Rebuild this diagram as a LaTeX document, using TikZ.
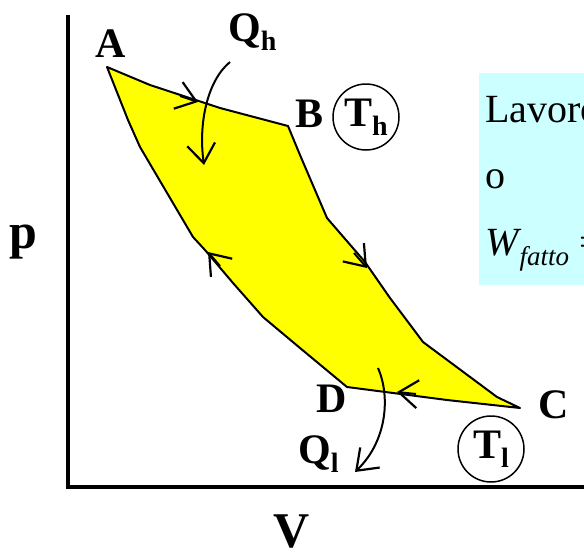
\documentclass[tikz,border=0pt]{standalone}
\usepackage{fontspec}
\setmainfont{Liberation Serif}
\usetikzlibrary{arrows.meta}
\definecolor{boxcyan}{RGB}{204,255,255}
\definecolor{cyclefill}{RGB}{255,255,0}
\newcommand{\bigbf}{\fontsize{42}{46}\selectfont\bfseries}
\newcommand{\sub}[2]{#1\raisebox{-9pt}{\fontsize{28}{30}\selectfont #2}}

\begin{document}
\begin{tikzpicture}[x=1pt,y=-1pt,
    flow/.style={line width=2pt,-{Straight Barb[length=19pt,width=28pt,line width=2.2pt]}},
    lbl/.style={anchor=base,font=\bigbf,inner sep=0pt},
    bath/.style={circle,draw,line width=1.5pt,minimum size=66pt,inner sep=0pt,font=\bigbf}]
    \clip (0,0) rectangle (584,552);
    % text box on the right
    \fill[boxcyan] (479,73) rectangle (600,285);
    \node[anchor=base west,inner sep=0pt,font=\fontsize{40}{44}\selectfont] (lav) at (485,122) {Lavoro};
    \node[anchor=base west,inner sep=0pt,font=\fontsize{40}{44}\selectfont] (o) at (485,188) {o};
    \node[anchor=base west,inner sep=0pt,font=\fontsize{40}{44}\selectfont] (wf) at (485,255)
        {\itshape W\kern1pt\raisebox{-10pt}{\fontsize{27}{30}\selectfont fatto}\upshape\ =};
    % axes
    \draw[line width=3.5pt] (68,15) -- (68,489);
    \draw[line width=3.5pt] (66,487) -- (590,487);
    \node[lbl,font=\fontsize{50}{54}\selectfont\bfseries] (p) at (23,248) {p};
    \node[lbl,font=\fontsize{50}{54}\selectfont\bfseries] (V) at (292,547) {V};
    % the cycle
    \coordinate (A) at (107,67);
    \coordinate (B) at (288,126);
    \coordinate (C) at (520,408);
    \coordinate (D) at (347,387);
    \filldraw[fill=cyclefill,line width=2pt,line join=round]
        (A) -- (150,85) -- (220,108) -- (B)
        -- (300,155) -- (327,218) -- (365,262) -- (390,298) -- (423,342) -- (497,397) -- (C)
        -- (447,400) -- (D)
        -- (300,348) -- (263,317) -- (233,283) -- (205,250) -- (193,237) -- (140,147) -- (128,120) -- cycle;
    % direction marks
    \coordinate (ab1) at (180,96);  \coordinate (ab2) at (198,102);
    \coordinate (bc1) at (354,253); \coordinate (bc2) at (367,268);
    \coordinate (cd1) at (416,394); \coordinate (cd2) at (397,392);
    \coordinate (da1) at (220,266); \coordinate (da2) at (208,252);
    \draw[flow] (ab1) -- (ab2);
    \draw[flow] (bc1) -- (bc2);
    \draw[flow] (cd1) -- (cd2);
    \draw[flow] (da1) -- (da2);
    % corner labels
    \node[lbl] (lA) at (111,57) {A};
    \node[lbl] (lB) at (310,127) {B};
    \node[lbl] (lC) at (554,418) {C};
    \node[lbl] (lD) at (332,412) {D};
    % reservoirs
    \node[bath] (Th) at (366,117) {\sub{T}{h}};
    \node[bath] (Tl) at (491,449) {\sub{T}{l}};
    % heat flows
    \node[anchor=base west,font=\bigbf,inner sep=0pt] (Qh) at (228,41) {\sub{Q}{h}};
    \node[anchor=base west,font=\bigbf,inner sep=0pt] (Ql) at (298,463) {\sub{Q}{l}};
    \coordinate (qh1) at (230,62);  \coordinate (qh2) at (204,165);
    \coordinate (ql1) at (378,368); \coordinate (ql2) at (355,472);
    \draw[flow] (qh1) .. controls (208,80) and (198,122) .. (qh2);
    \draw[flow] (ql1) .. controls (390,395) and (388,440) .. (ql2);
\end{tikzpicture}
\end{document}
